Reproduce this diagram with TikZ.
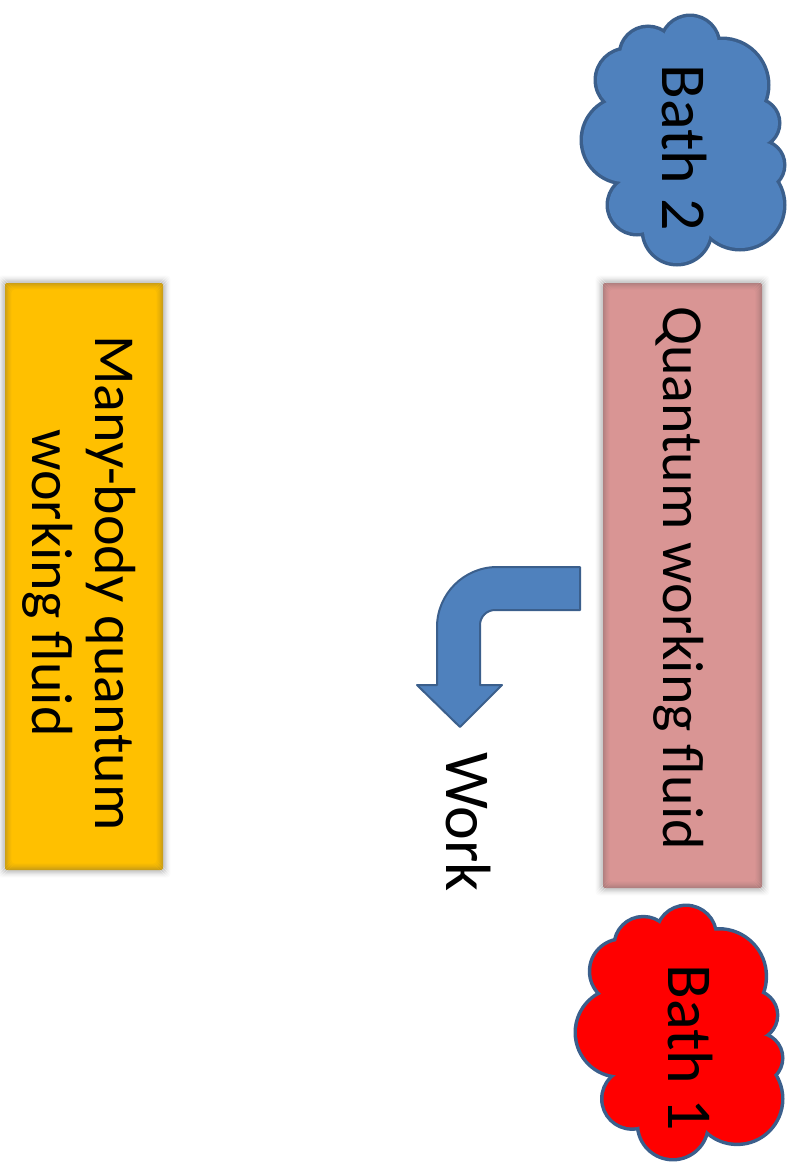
\documentclass[tikz,border=0pt]{standalone}
\usepackage{fontspec}
\setmainfont{Carlito}
\definecolor{bathblue}{HTML}{4F81BD}
\definecolor{bathedge}{HTML}{3B5F8C}
\definecolor{fluidpink}{HTML}{D99594}
\definecolor{fluidgold}{HTML}{FFC000}
\tikzset{
  lbl/.style={rotate=-90, font=\fontsize{64}{70}\selectfont, text=black, inner sep=0pt},
  fluidtext/.style={rotate=-90, inner sep=0pt, align=center, text=black,
    font=\fontsize{58}{63}\selectfont},
  fluidbox/.style={inner sep=0pt, rounded corners=2pt},
  bigarrow/.style={fill=bathblue, draw=bathedge, line width=2pt, line join=round}
}
% a puffy cloud built from overlapping circles; #1,#2 = centre, #3 = scale, #4 = fill
\newcommand\puffcloud[4]{%
  \begin{scope}[shift={(#1,#2)}, scale=#3]
    \foreach \cx/\cy/\r in {-35/-85/27, 7/-95/28, 39/-55/45, 72/-17/23, 77/25/23,
                            57/65/43, -6/90/33, -46/65/28, -58/0/42, -56/-60/30}
      \draw[bathedge, line width=7pt] (\cx,\cy) circle[radius=\r pt];
    \foreach \cx/\cy/\r in {-35/-85/27, 7/-95/28, 39/-55/45, 72/-17/23, 77/25/23,
                            57/65/43, -6/90/33, -46/65/28, -58/0/42, -56/-60/30}
      \fill[#4] (\cx,\cy) circle[radius=\r pt];
    \fill[#4] (-35,-85) -- (7,-95) -- (39,-55) -- (72,-17) -- (77,25) -- (57,65)
      -- (-6,90) -- (-46,65) -- (-58,0) -- (-56,-60) -- cycle;
  \end{scope}}
% soft grey rim round a box node
\newcommand\softrim[1]{%
  \foreach \d/\o in {-6/0.04,-5/0.07,-4/0.11,-3/0.16,-2/0.22,-1/0.28,0/0.33,1/0.3,
                     2/0.25,3/0.19,4/0.13,5/0.08,6/0.05,7/0.02}
    \draw[black!70, opacity=\o, line width=1pt, rounded corners=4pt]
      ([shift={(-\d pt,\d pt)}]#1.north west) rectangle ([shift={(\d pt,-\d pt)}]#1.south east);}
\begin{document}
\begin{tikzpicture}[x=1pt,y=-1pt]
\useasboundingbox (0,0) rectangle (801,1163);

% heat baths
\puffcloud{683}{140}{1}{bathblue}
\node[lbl] (bathtwolbl) at (684,148) {Bath 2};
\puffcloud{679}{1032.5}{1.02}{red}
\node[lbl] (bathonelbl) at (690,1048) {Bath 1};

% working fluids
\node[fluidbox, fill=fluidpink, minimum width=159pt, minimum height=605pt]
  (qwf) at (682.5,585.5) {};
\softrim{qwf}
\node[fluidtext] (qwflbl) at (679,578) {Quantum working fluid};
\node[fluidbox, fill=fluidgold, minimum width=158pt, minimum height=587pt]
  (mbqwf) at (84,576.5) {};
\softrim{mbqwf}
\node[fluidtext] (mbqwflbl) at (79,583) {Many-body quantum\\working fluid};

% work output
\node[lbl] (work) at (468,822) {Work};
\draw[bigarrow] (580,567) -- (497,567)
  .. controls (464,567) and (437,594) .. (437,627)
  -- (437,685) -- (417,685) -- (460,727) -- (502,685) -- (480,685)
  -- (480,625) .. controls (480,616.7) and (486.7,610) .. (495,610)
  -- (580,610) -- cycle;
\end{tikzpicture}
\end{document}
